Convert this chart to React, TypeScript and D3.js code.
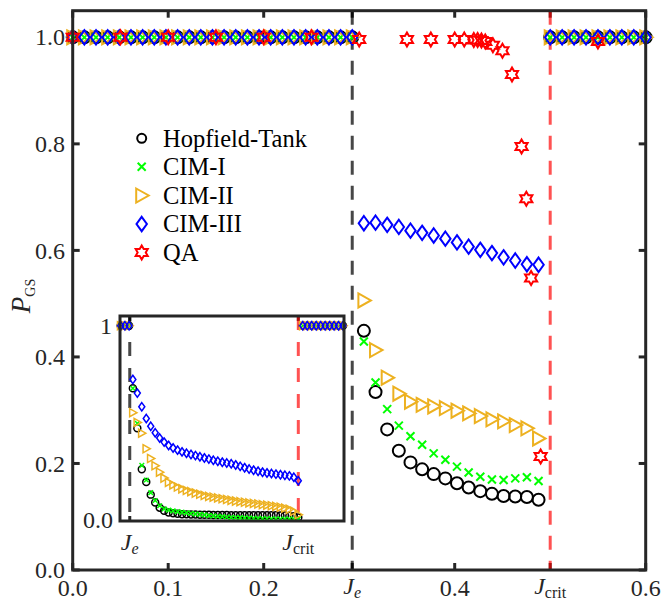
import React from "react";
import * as d3 from "d3";

// ---------- data ----------
const J_E = 0.2927;
const J_CRIT = 0.5;

// main panel x grids
const mainXLeft = [0, 0.0122, 0.0244, 0.0366, 0.0488, 0.061, 0.0732, 0.0854, 0.0976, 0.1098, 0.122, 0.1341, 0.1463, 0.1585, 0.1707, 0.1829, 0.1951, 0.2073, 0.2195, 0.2317, 0.2439, 0.2561, 0.2683, 0.2805, 0.2927];
const mainXMid = [0.3049, 0.3171, 0.3293, 0.3415, 0.3537, 0.3659, 0.378, 0.3902, 0.4024, 0.4146, 0.4268, 0.439, 0.4512, 0.4634, 0.4756, 0.4878];
const mainXRight = [0.5, 0.5125, 0.525, 0.5375, 0.55, 0.5625, 0.575, 0.5875, 0.6];

const topRowLeft = [1, 1, 1, 1, 1, 1, 1, 1, 1, 1, 1, 1, 1, 1, 1, 1, 1, 1, 1, 1, 1, 1, 1, 1, 1];
const topRowRight = [1, 1, 1, 1, 1, 1, 1, 1, 1];

const hopfieldMid = [0.449, 0.334, 0.264, 0.224, 0.202, 0.189, 0.18, 0.172, 0.163, 0.155, 0.148, 0.143, 0.139, 0.138, 0.137, 0.132];
const cim1Mid = [0.429, 0.352, 0.302, 0.271, 0.251, 0.235, 0.219, 0.207, 0.194, 0.183, 0.175, 0.17, 0.169, 0.172, 0.174, 0.167];
const cim2Mid = [0.506, 0.413, 0.361, 0.331, 0.316, 0.31, 0.307, 0.304, 0.299, 0.294, 0.289, 0.283, 0.279, 0.272, 0.266, 0.247];
const cim3Mid = [0.651, 0.652, 0.648, 0.644, 0.637, 0.633, 0.628, 0.622, 0.615, 0.607, 0.601, 0.595, 0.587, 0.581, 0.574, 0.573];

const qaX = [0, 0.05, 0.1, 0.15, 0.2, 0.25, 0.3, 0.35, 0.375, 0.4, 0.41, 0.42, 0.424, 0.428, 0.432, 0.44, 0.45, 0.46, 0.47, 0.475, 0.48, 0.49, 0.55];
const qaY = [1, 1, 1, 1, 1, 1, 0.996, 0.996, 0.996, 0.996, 0.996, 0.995, 0.995, 0.994, 0.992, 0.985, 0.975, 0.93, 0.795, 0.697, 0.548, 0.213, 0.992];

// inset x grids
const insetXLeft = [0.2815, 0.2867, 0.2919];
const insetXMid = [0.2965, 0.302, 0.3075, 0.313, 0.3185, 0.324, 0.3295, 0.335, 0.3405, 0.346, 0.3515, 0.357, 0.3625, 0.368, 0.3735, 0.379, 0.3845, 0.39, 0.3955, 0.401, 0.4065, 0.412, 0.4175, 0.423, 0.4285, 0.434, 0.4395, 0.445, 0.4505, 0.456, 0.4615, 0.467, 0.4725, 0.478, 0.4835, 0.489, 0.4945, 0.5];
const insetXRight = [0.5055, 0.511, 0.5165, 0.522, 0.5275, 0.533, 0.5385, 0.544, 0.5495, 0.555];
const insetTopLeft = [1, 1, 1];
const insetTopRight = [1, 1, 1, 1, 1, 1, 1, 1, 1, 1];

const insetHopfield = [0.68, 0.475, 0.265, 0.2, 0.135, 0.095, 0.068, 0.052, 0.044, 0.04, 0.037, 0.035, 0.034, 0.033, 0.033, 0.032, 0.032, 0.032, 0.031, 0.031, 0.031, 0.031, 0.03, 0.03, 0.03, 0.03, 0.03, 0.03, 0.03, 0.029, 0.029, 0.029, 0.029, 0.028, 0.028, 0.027, 0.025, 0.018];
const insetCim1 = [0.68, 0.5, 0.285, 0.21, 0.145, 0.105, 0.078, 0.062, 0.056, 0.052, 0.048, 0.045, 0.042, 0.039, 0.036, 0.034, 0.031, 0.028, 0.026, 0.024, 0.022, 0.02, 0.019, 0.018, 0.017, 0.016, 0.015, 0.014, 0.013, 0.012, 0.012, 0.011, 0.011, 0.01, 0.01, 0.01, 0.01, 0.01];
const insetCim2 = [0.555, 0.505, 0.45, 0.37, 0.32, 0.283, 0.25, 0.22, 0.198, 0.185, 0.174, 0.165, 0.157, 0.15, 0.143, 0.137, 0.131, 0.126, 0.122, 0.118, 0.114, 0.11, 0.106, 0.102, 0.099, 0.096, 0.093, 0.09, 0.087, 0.084, 0.081, 0.078, 0.075, 0.071, 0.066, 0.06, 0.05, 0.032];
const insetCim3 = [0.725, 0.655, 0.585, 0.525, 0.485, 0.452, 0.425, 0.404, 0.387, 0.374, 0.363, 0.354, 0.347, 0.341, 0.335, 0.329, 0.323, 0.317, 0.311, 0.306, 0.301, 0.297, 0.293, 0.287, 0.28, 0.273, 0.266, 0.26, 0.255, 0.25, 0.246, 0.243, 0.24, 0.237, 0.234, 0.231, 0.224, 0.206];

const seriesNames = ["Hopfield-Tank", "CIM-I", "CIM-II", "CIM-III", "QA"];
const seriesColors = ["#000000", "#00ff00", "#EDB120", "#0000ff", "#ff0000"];
const seriesMarkers = ["circle", "cross", "triangle", "diamond", "hexagram"];

const mainYTicks = [0, 0.2, 0.4, 0.6, 0.8, 1.0];
const mainXTicks = [0, 0.1, 0.2, J_E, 0.4, J_CRIT, 0.6];
const mainXTickLabels = ["0.0", "0.1", "0.2", "Je", "0.4", "Jcrit", "0.6"];

// ---------- helpers ----------
const FONT = "'Liberation Serif', 'Times New Roman', serif";
const AXIS = "#262626";

function hexagramPath(R: number) {
  const r = R / Math.sqrt(3);
  const pts: string[] = [];
  for (let k = 0; k < 12; k++) {
    const ang = (-90 + k * 30) * Math.PI / 180;
    const rad = k % 2 === 0 ? R : r;
    pts.push(`${(rad * Math.cos(ang)).toFixed(2)},${(rad * Math.sin(ang)).toFixed(2)}`);
  }
  return "M" + pts.join("L") + "Z";
}

function Marker({ type, x, y, s, color, sw }: { type: string; x: number; y: number; s: number; color: string; sw: number }) {
  const common = { fill: "none", stroke: color, strokeWidth: sw, strokeLinejoin: "miter" as const };
  const t = `translate(${x},${y})`;
  if (type === "circle") return <circle cx={x} cy={y} r={6 * s} {...common} />;
  if (type === "cross")
    return <path transform={t} d={`M${-4 * s},${-4 * s}L${4 * s},${4 * s}M${-4 * s},${4 * s}L${4 * s},${-4 * s}`} {...common} />;
  if (type === "triangle")
    return <path transform={t} d={`M${-5.5 * s},${-7 * s}L${7 * s},0L${-5.5 * s},${7 * s}Z`} {...common} />;
  if (type === "diamond")
    return <path transform={t} d={`M0,${-7.2 * s}L${5.2 * s},0L0,${7.2 * s}L${-5.2 * s},0Z`} {...common} />;
  return <path transform={t} d={hexagramPath(7 * s)} {...common} />;
}

function JLabel({ x, y, sub, italicSub, size, subSize }: { x: number; y: number; sub: string; italicSub: boolean; size: number; subSize: number }) {
  return (
    <text x={x} y={y} textAnchor="middle" fontFamily={FONT} fontSize={size} fill={AXIS}>
      <tspan fontStyle="italic">J</tspan>
      <tspan fontSize={subSize} dy={4} fontStyle={italicSub ? "italic" : "normal"}>{sub}</tspan>
    </text>
  );
}

export default function App() {
  // main scales
  const x = d3.scaleLinear().domain([0, 0.6]).range([72.7, 645.7]);
  const y = d3.scaleLinear().domain([0, 1.05]).range([570, 10.7]);
  // inset scales
  const ix = d3.scaleLinear().domain([0.2807, 0.5562]).range([120, 344]);
  const iy = d3.scaleLinear().domain([0, 1.05]).range([521, 316]);

  const mainX = [...mainXLeft, ...mainXMid, ...mainXRight];
  const mainSeries = [
    [...topRowLeft, ...hopfieldMid, ...topRowRight],
    [...topRowLeft, ...cim1Mid, ...topRowRight],
    [...topRowLeft, ...cim2Mid, ...topRowRight],
    [...topRowLeft, ...cim3Mid, ...topRowRight],
  ];
  const insetX = [...insetXLeft, ...insetXMid, ...insetXRight];
  const insetSeries = [insetHopfield, insetCim1, insetCim2, insetCim3].map((mid) => [...insetTopLeft, ...mid, ...insetTopRight]);

  const x0 = x.range()[0], x1 = x.range()[1], y0 = y.range()[0], y1 = y.range()[1];
  const ix0 = ix.range()[0], ix1 = ix.range()[1], iy0 = iy.range()[0], iy1 = iy.range()[1];
  const tl = 7;

  const legendY = [138.3, 166.7, 195.5, 224, 252.5];

  return (
    <svg width={661} height={601} style={{ position: "absolute", left: 0, top: 0, display: "block" }}>
      <rect x={0} y={0} width={661} height={601} fill="#fff" />
      {/* ticks main */}
      {mainXTicks.map((t, i) => (
        <g key={"xt" + i}>
          <line x1={x(t)} x2={x(t)} y1={y0} y2={y0 - tl} stroke={AXIS} strokeWidth={3} />
          <line x1={x(t)} x2={x(t)} y1={y1} y2={y1 + tl} stroke={AXIS} strokeWidth={3} />
        </g>
      ))}
      {mainYTicks.map((t, i) => (
        <g key={"yt" + i}>
          <line x1={x0} x2={x0 + tl} y1={y(t)} y2={y(t)} stroke={AXIS} strokeWidth={3} />
          <line x1={x1} x2={x1 - tl} y1={y(t)} y2={y(t)} stroke={AXIS} strokeWidth={3} />
        </g>
      ))}
      {/* dashed lines main */}
      <line x1={x(J_E)} x2={x(J_E)} y1={y1} y2={y0} stroke="rgba(0,0,0,0.72)" strokeWidth={3} strokeDasharray="14 11" />
      <line x1={x(J_CRIT)} x2={x(J_CRIT)} y1={y1} y2={y0} stroke="rgba(255,0,0,0.68)" strokeWidth={3} strokeDasharray="14 11" />

      {/* main markers */}
      {mainSeries.map((vals, si) => (
        <g key={"ms" + si}>
          {vals.map((v, i) => (
            <Marker key={i} type={seriesMarkers[si]} x={x(mainX[i])} y={y(v)} s={1} color={seriesColors[si]} sw={2} />
          ))}
        </g>
      ))}
      <g>
        {qaY.map((v, i) => (
          <Marker key={i} type="hexagram" x={x(qaX[i])} y={y(v)} s={1} color={seriesColors[4]} sw={2} />
        ))}
      </g>

      {/* main frame */}
      <rect x={x0} y={y1} width={x1 - x0} height={y0 - y1} fill="none" stroke={AXIS} strokeWidth={3} />

      {/* main tick labels */}
      {mainYTicks.map((t, i) => (
        <text key={"yl" + i} x={65} y={y(t)} dy="0.34em" textAnchor="end" fontFamily={FONT} fontSize={24} fill={AXIS}>
          {t.toFixed(1)}
        </text>
      ))}
      {mainXTicks.map((t, i) => {
        const lab = mainXTickLabels[i];
        if (lab === "Je") return <JLabel key={"xl" + i} x={x(t)} y={594} sub="e" italicSub={true} size={24} subSize={16} />;
        if (lab === "Jcrit") return <JLabel key={"xl" + i} x={x(t)} y={594} sub="crit" italicSub={false} size={24} subSize={16} />;
        return (
          <text key={"xl" + i} x={x(t)} y={596} textAnchor="middle" fontFamily={FONT} fontSize={24} fill={AXIS}>
            {lab}
          </text>
        );
      })}
      {/* y axis label */}
      <text transform="translate(30,296) rotate(-90)" textAnchor="middle" fontFamily={FONT} fill={AXIS} fontSize={27}>
        <tspan fontStyle="italic">P</tspan>
        <tspan fontSize={14} dy={5}>GS</tspan>
      </text>

      {/* legend */}
      {seriesNames.map((n, i) => (
        <g key={"lg" + i}>
          <Marker type={seriesMarkers[i]} x={141.7} y={legendY[i]} s={i === 0 ? 0.75 : 1} color={seriesColors[i]} sw={2} />
          <text x={163} y={legendY[i]} dy="0.34em" fontFamily={FONT} fontSize={24.5} fill="#000">
            {n}
          </text>
        </g>
      ))}

      {/* inset */}
      <rect x={ix0} y={iy1} width={ix1 - ix0} height={iy0 - iy1} fill="#fff" />
      {[J_E, J_CRIT].map((t, i) => (
        <g key={"it" + i}>
          <line x1={ix(t)} x2={ix(t)} y1={iy0} y2={iy0 - 5} stroke={AXIS} strokeWidth={3} />
          <line x1={ix(t)} x2={ix(t)} y1={iy1} y2={iy1 + 5} stroke={AXIS} strokeWidth={3} />
        </g>
      ))}
      <line x1={ix(J_E)} x2={ix(J_E)} y1={iy1} y2={iy0} stroke="rgba(0,0,0,0.72)" strokeWidth={3} strokeDasharray="14 12" />
      <line x1={ix(J_CRIT)} x2={ix(J_CRIT)} y1={iy1} y2={iy0} stroke="rgba(255,0,0,0.68)" strokeWidth={3} strokeDasharray="14 12" />
      {insetSeries.map((vals, si) => (
        <g key={"is" + si}>
          {vals.map((v, i) => (
            <Marker key={i} type={seriesMarkers[si]} x={ix(insetX[i])} y={iy(v)} s={0.58} color={seriesColors[si]} sw={1.5} />
          ))}
        </g>
      ))}
      <rect x={ix0} y={iy1} width={ix1 - ix0} height={iy0 - iy1} fill="none" stroke={AXIS} strokeWidth={3} />
      <text x={112} y={iy(1)} dy="0.34em" textAnchor="end" fontFamily={FONT} fontSize={24} fill={AXIS}>1</text>
      <text x={113} y={iy(0)} dy="0.3em" textAnchor="end" fontFamily={FONT} fontSize={24} fill={AXIS}>0.0</text>
      <JLabel x={ix(J_E)} y={550} sub="e" italicSub={true} size={24} subSize={16} />
      <JLabel x={ix(J_CRIT)} y={550} sub="crit" italicSub={false} size={24} subSize={16} />
    </svg>
  );
}
